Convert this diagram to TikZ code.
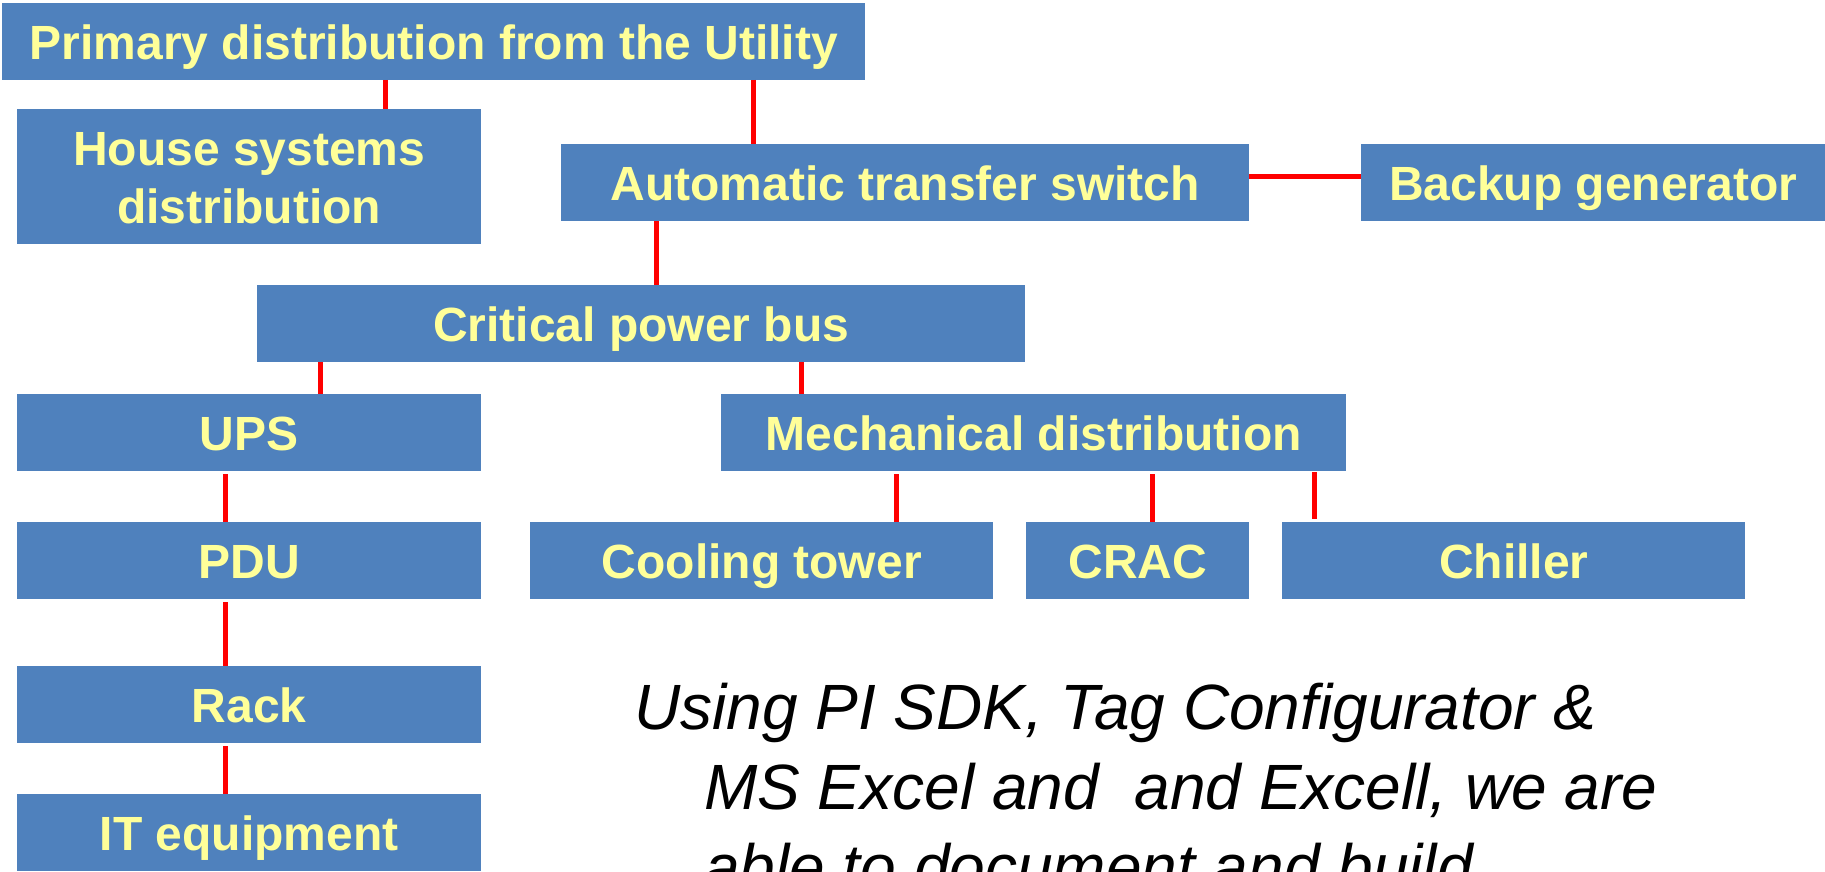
\documentclass[tikz,border=0pt]{standalone}
\usepackage{fontspec}
\setmainfont{Liberation Sans}
\usepackage{tikz}
\usetikzlibrary{positioning}

\definecolor{boxBlue}{HTML}{4F81BD}
\definecolor{boxYellow}{HTML}{FFFF99}
\definecolor{linkRed}{HTML}{FF0000}

\tikzset{
  blockbase/.style={fill=boxBlue, text=boxYellow, anchor=north west, inner sep=0pt,
    minimum height=77pt, align=center,
    font=\fontsize{48}{58}\selectfont\bfseries},
  block/.style={blockbase, text height=40pt, text depth=5pt},
  link/.style={draw=linkRed, line width=5pt},
  note/.style={anchor=base west, inner sep=0pt,
    font=\fontsize{64}{80}\selectfont\itshape}
}

\begin{document}
\begin{tikzpicture}[x=1pt, y=-1pt]
    \useasboundingbox (0,0) rectangle (1825,872);
    \clip (0,0) rectangle (1825,872);

    %Boxes
    \node[block, minimum width=863pt] (Primary) at (2,3)
       {Primary distribution from the Utility};
    \node[blockbase, minimum width=464pt, minimum height=135pt]
       (House) at (17,109) {\rule{0pt}{36pt}House systems\\distribution};
    \node[block, minimum width=688pt] (ATS) at (561,144)
       {Automatic transfer switch};
    \node[block, minimum width=464pt] (Backup) at (1361,144)
       {Backup generator};
    \node[block, minimum width=768pt] (CritBus) at (257,285)
       {Critical power bus};
    \node[block, minimum width=464pt] (UPS) at (17,394) {UPS};
    \node[block, minimum width=625pt] (MechDist) at (721,394)
       {Mechanical distribution};
    \node[block, minimum width=464pt] (PDU) at (17,522) {PDU};
    \node[block, minimum width=463pt] (Cooling) at (530,522) {Cooling tower};
    \node[block, minimum width=223pt] (CRAC) at (1026,522) {CRAC};
    \node[block, minimum width=463pt] (Chiller) at (1282,522) {Chiller};
    \node[block, minimum width=464pt] (Rack) at (17,666) {Rack};
    \node[block, minimum width=464pt] (IT) at (17,794) {IT equipment};

    %Link end points
    \coordinate (Primary_House) at (385,80);
    \coordinate (Primary_ATS) at (753,80);
    \coordinate (ATS_Backup) at (1249,176);
    \coordinate (ATS_CritBus) at (656,221);
    \coordinate (CritBus_UPS) at (320,362);
    \coordinate (CritBus_Mech) at (801,362);
    \coordinate (UPS_PDU) at (225,474);
    \coordinate (Mech_Cooling) at (896,474);
    \coordinate (Mech_CRAC) at (1152,474);
    \coordinate (Mech_Chiller) at (1314,472);
    \coordinate (PDU_Rack) at (225,602);
    \coordinate (Rack_IT) at (225,746);

    %Lines
    \draw[link] (Primary_House) -- (Primary_House |- House.north);
    \draw[link] (Primary_ATS) -- (Primary_ATS |- ATS.north);
    \draw[link] (ATS_Backup) -- (ATS_Backup -| Backup.west);
    \draw[link] (ATS_CritBus) -- (ATS_CritBus |- CritBus.north);
    \draw[link] (CritBus_UPS) -- (CritBus_UPS |- UPS.north);
    \draw[link] (CritBus_Mech) -- (CritBus_Mech |- MechDist.north);
    \draw[link] (UPS_PDU) -- (UPS_PDU |- PDU.north);
    \draw[link] (Mech_Cooling) -- (Mech_Cooling |- Cooling.north);
    \draw[link] (Mech_CRAC) -- (Mech_CRAC |- CRAC.north);
    \draw[link] (Mech_Chiller) -- ([yshift=3pt]Mech_Chiller |- Chiller.north);
    \draw[link] (PDU_Rack) -- (PDU_Rack |- Rack.north);
    \draw[link] (Rack_IT) -- (Rack_IT |- IT.north);

    %Note
    \node[note] (NoteA) at (634,729) {Using PI SDK, Tag Configurator \&};
    \node[note] (NoteB) at (704,809) {MS Excel and\ \ and Excell, we are};
    \node[note] (NoteC) at (704,889) {able to document and build};
\end{tikzpicture}
\end{document}
